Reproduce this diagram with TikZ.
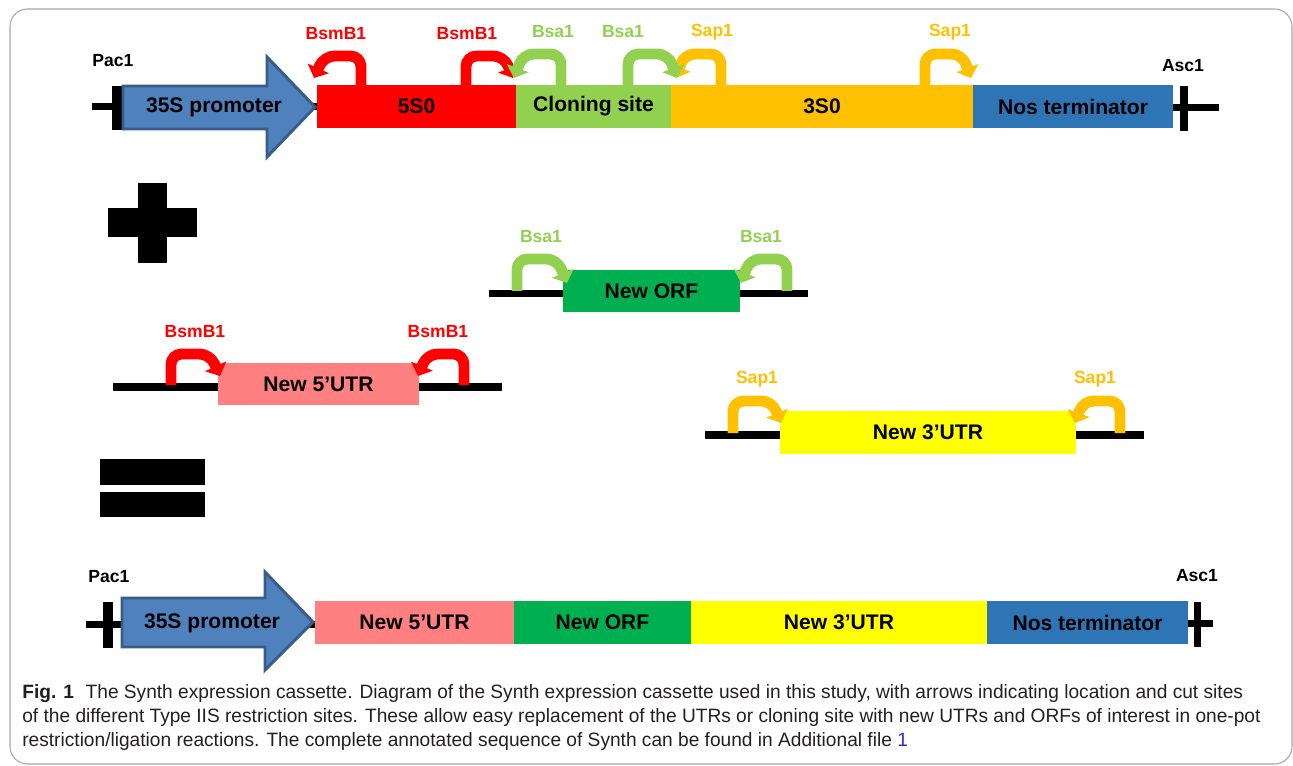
\documentclass[tikz,border=0pt]{standalone}
\usepackage{fontspec}
\setmainfont{Liberation Sans}
\newfontfamily\capfont[FakeStretch=0.99]{Liberation Sans}
\usetikzlibrary{arrows.meta}

\definecolor{promfill}{HTML}{4F81BD}
\definecolor{promedge}{HTML}{385D8A}
\definecolor{redS}{HTML}{FF0000}
\definecolor{cloneG}{HTML}{92D050}
\definecolor{orangeS}{HTML}{FFC000}
\definecolor{nosblue}{HTML}{2E75B6}
\definecolor{utrpink}{HTML}{FF8080}
\definecolor{orfgreen}{HTML}{00B050}
\definecolor{utryellow}{HTML}{FFFF00}
\definecolor{capgray}{HTML}{231F20}
\definecolor{linkblue}{HTML}{2B2BD9}

\tikzset{
  boxtext/.style={font=\bfseries\fontsize{12}{14}\selectfont, text=black, inner sep=0pt},
  sitelabel/.style={font=\bfseries\fontsize{10}{12}\selectfont, inner sep=0pt},
  cut/.style={line width=6.2pt, rounded corners=6pt, -{Triangle[length=6pt,width=13pt]}},
  bb/.style={line width=4pt},
  promoter/.style={fill=promfill, draw=promedge, line width=1.7pt, line join=miter},
}

\begin{document}
\begin{tikzpicture}[x=0.02cm, y=-0.02cm]
  \useasboundingbox (0,0) rectangle (1293,766);

  % Figure frame
  \draw[gray!70, line width=0.6pt, rounded corners=10pt] (10,9) rectangle (1292,764);

  % ---------------- Top cassette ----------------
  \draw[bb] (92,106.5) -- (317,106.5);
  \fill (112,86) rectangle (122,130);
  \draw[promoter] (123,86) -- (267,86) -- (267,57) -- (315,107) -- (267,157)
        -- (267,129) -- (123,129) -- cycle;
  \node[boxtext] (prom) at (214,107) {35S promoter};

  \fill[redS] (317,85) rectangle (516,128) node[midway, boxtext] (fiveS) {5S0};
  \fill[cloneG] (516,85) rectangle (671,128) node[midway, boxtext] (clone) {Cloning site};
  \fill[orangeS] (671,85) rectangle (973,128) node[midway, boxtext] (threeS) {3S0};
  \fill[nosblue] (973,85) rectangle (1173,128) node[midway, boxtext] (nos) {Nos terminator};

  \fill (1173,104) rectangle (1219,111);
  \fill (1180,86) rectangle (1188,131);

  \node[sitelabel] (pacA) at (113,61) {Pac1};
  \node[sitelabel] (ascA) at (1183,66) {Asc1};

  % Plus and equals signs
  \fill (138,183) rectangle (167,263);
  \fill (108,208) rectangle (197,237);
  \fill (100,459) rectangle (205,485);
  \fill (100,492) rectangle (205,517);

  % ---------------- Inserts ----------------
  \draw[bb] (489,293.5) -- (808,293.5);
  \fill[orfgreen] (563,270) rectangle (740,312) node[midway, boxtext] (orf) {New ORF};

  \draw[bb] (113,387) -- (502,387);
  \fill[utrpink] (218,363) rectangle (419,405) node[midway, boxtext] (utrfive) {New 5’UTR};

  \draw[bb] (705,435) -- (1144,435);
  \fill[utryellow] (780,411) rectangle (1076,454) node[midway, boxtext] (utrthree) {New 3’UTR};

  % Cut sites: colour / stem x / base y / top y / bend x / tip x / tip y / label / label x / name
  \foreach \c/\sx/\by/\ty/\cx/\ex/\ey/\lab/\lx/\nm in {
      redS/361/85/56/324/314/78/BsmB1/336/bsmbA,
      redS/466/85/56/504/513/78/BsmB1/467/bsmbB,
      orangeS/721/85/54/684/676/78/Sap1/712/sapA,
      orangeS/925/85/54/962/971/78/Sap1/950/sapB,
      cloneG/561/85/54/523/514/78/Bsa1/553/bsaA,
      cloneG/628/85/54/668/677/78/Bsa1/623/bsaB,
      cloneG/517/291/259/557/567/283/Bsa1/541/bsaC,
      cloneG/787/291/259/750/741/283/Bsa1/761/bsaD,
      redS/171/385/354/210/220/376/BsmB1/195/bsmbC,
      redS/464/385/354/427/418/376/BsmB1/438/bsmbD,
      orangeS/733/433/401/772/781/423/Sap1/757/sapC,
      orangeS/1120/433/401/1083/1075/423/Sap1/1095/sapD} {
    \draw[cut, \c] (\sx,\by) -- (\sx,\ty) -- (\cx,\ty) -- (\ex,\ey);
    \node[sitelabel, text=\c] (\nm) at (\lx,{\ty-22}) {\lab};
  }

  % ---------------- Result cassette ----------------
  \draw[bb] (86,624.5) -- (315,624.5);
  \fill (103,602) rectangle (113,648);
  \draw[promoter] (122,598) -- (265,598) -- (265,572) -- (313,622) -- (265,670)
        -- (265,647) -- (122,647) -- cycle;
  \node[boxtext] (promB) at (212,623) {35S promoter};

  \fill[utrpink] (315,601) rectangle (514,644) node[midway, boxtext] (utrfiveB) {New 5’UTR};
  \fill[orfgreen] (514,601) rectangle (691,644) node[midway, boxtext] (orfB) {New ORF};
  \fill[utryellow] (691,601) rectangle (987,644) node[midway, boxtext] (utrthreeB) {New 3’UTR};
  \fill[nosblue] (987,601) rectangle (1188,644) node[midway, boxtext] (nosB) {Nos terminator};

  \fill (1188,620) rectangle (1213,627);
  \fill (1194,602) rectangle (1201,647);

  \node[sitelabel] (pacB) at (109,577) {Pac1};
  \node[sitelabel] (ascB) at (1197,576) {Asc1};

  % Caption
  \node[anchor=north west, align=left, inner sep=0pt, text=capgray,
        font=\capfont\fontsize{11}{13.6}\selectfont] (caption) at (22,684)
    {\textbf{Fig. 1}\hspace{0.6em}The Synth expression cassette. Diagram of the Synth expression cassette used in this study, with arrows indicating location and cut sites\\
     of the different Type IIS restriction sites. These allow easy replacement of the UTRs or cloning site with new UTRs and ORFs of interest in one-pot\\
     restriction/ligation reactions. The complete annotated sequence of Synth can be found in Additional file {\color{linkblue}1}};
\end{tikzpicture}
\end{document}
